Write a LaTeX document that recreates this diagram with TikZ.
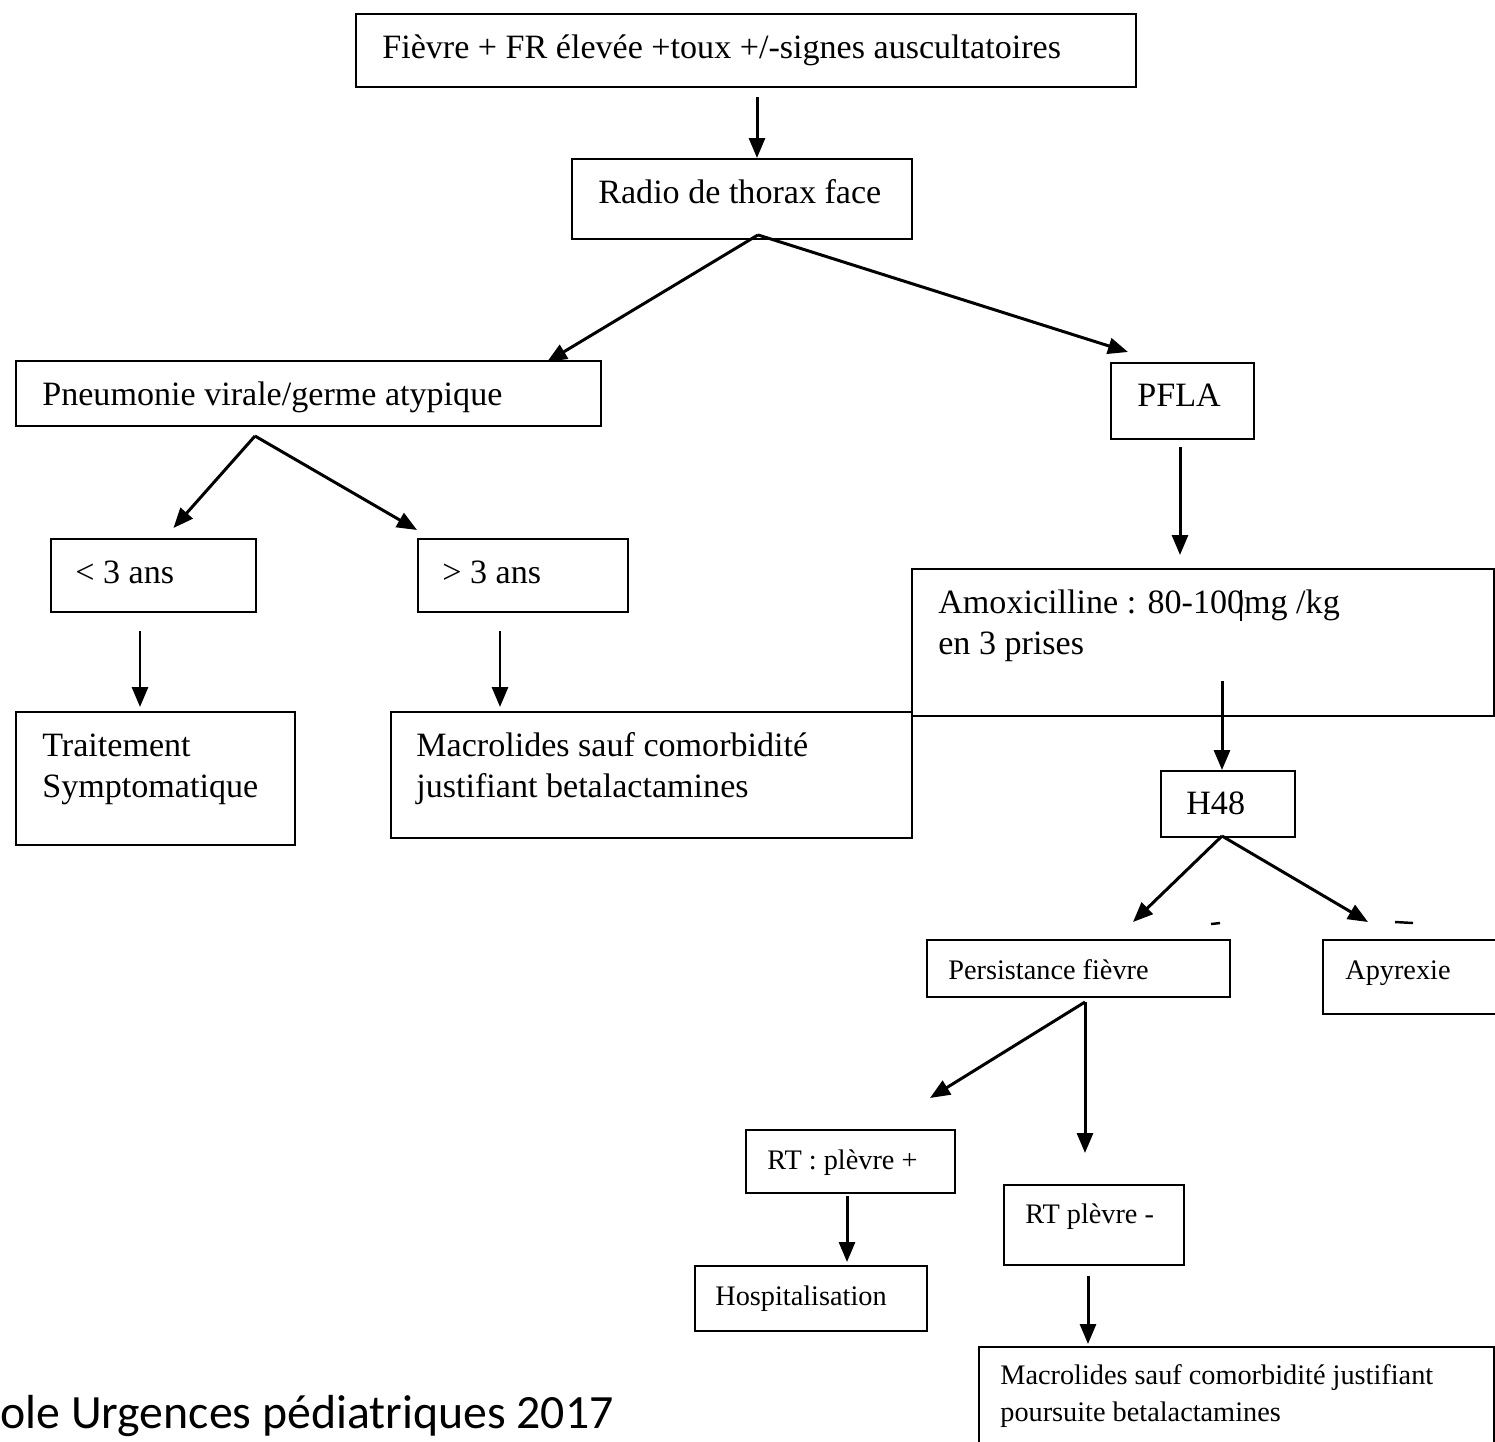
\documentclass[tikz,border=0pt]{standalone}
\usepackage{fontspec}
\setmainfont{Liberation Serif}
\newfontfamily\legende{Carlito}
\usetikzlibrary{calc}
\usetikzlibrary{arrows.meta}
\newcommand{\grand}{\fontsize{19.4}{23}\selectfont}
\newcommand{\petit}{\fontsize{16.1}{21}\selectfont}

\begin{document}
\begin{tikzpicture}[x=0.02cm, y=-0.02cm, >={Triangle[length=0.4cm,width=0.32cm]},
boite/.style 2 args={draw, line width=1.1pt, anchor=north west, inner sep=0pt, minimum width=#1*0.02cm, minimum height=#2*0.02cm},
texte/.style={anchor=base west, inner sep=0pt, align=left, font=\grand},
petittexte/.style={texte, font=\petit},
fleche/.style={->, line width=1.7pt}]
\useasboundingbox (0,0) rectangle (1495,1441);
\clip (0,0) rectangle (1495,1441);

% boites (le texte multi-ligne est place par la ligne du bas)
\node [boite={780}{73}] (fievre) at (355,13) {};
\node [texte] (tfievre) at (382,58) {Fièvre + FR élevée +toux +/-signes auscultatoires};
\node [boite={340}{80}] (radio) at (571,158) {};
\node [texte] (tradio) at (598,203) {Radio de thorax face};

\node [boite={585}{65}] (pneumo) at (15,360) {};
\node [texte] (tpneumo) at (42,405) {Pneumonie virale/germe atypique};
\node [boite={143}{76}] (pfla) at (1110,362) {};
\node [texte] (tpfla) at (1137,406) {PFLA};

\node [boite={205}{73}] (moins) at (50,538) {};
\node [texte] (tmoins) at (75,583) {< 3 ans};
\node [boite={210}{73}] (plus) at (417,538) {};
\node [texte] (tplus) at (442,583) {> 3 ans};
\node [boite={582}{147}] (amox) at (911,568) {};
\node [texte] (tamox) at (938,654) {Amoxicilline : 80-100mg /kg\\en 3 prises};

\node [boite={279}{133}] (trait) at (15,711) {};
\node [texte] (ttrait) at (42,797) {Traitement\\Symptomatique};
\node [boite={521}{126}] (macro) at (390,711) {};
\node [texte] (tmacro) at (416,797) {Macrolides sauf comorbidité\\justifiant betalactamines};

\node [boite={134}{66}] (h48) at (1160,770) {};
\node [texte] (th48) at (1186,814) {H48};

\node [boite={303}{57}] (persist) at (926,939) {};
\node [petittexte] (tpersist) at (948,979) {Persistance fièvre};
\node [boite={200}{74}] (apyr) at (1322,939) {};
\node [petittexte] (tapyr) at (1345,979) {Apyrexie};

\node [boite={209}{63}] (rtplus) at (745,1129) {};
\node [petittexte] (trtplus) at (767,1169) {RT : plèvre +};
\node [boite={180}{80}] (rtmoins) at (1003,1184) {};
\node [petittexte] (trtmoins) at (1025,1223) {RT plèvre -};
\node [boite={232}{65}] (hosp) at (694,1265) {};
\node [petittexte] (thosp) at (715,1305) {Hospitalisation};
\node [boite={515}{120}] (macro2) at (978,1346) {};
\node [petittexte] (tmacro2) at (1000,1421) {Macrolides sauf comorbidité justifiant\\poursuite betalactamines};

\node [anchor=base west, inner sep=0pt, font=\legende\fontsize{27.2}{32}\selectfont] (source) at (0,1428) {ole Urgences pédiatriques 2017};

% fleches
\coordinate (d1) at (757,97);
\draw [fleche] (d1) -- (d1 |- radio.north);
\coordinate (d2) at ($(radio.south)+(16,-5)$);
\draw [fleche] (d2) -- ($(pneumo.north east)+(-55,2)$);
\draw [fleche] (d2) -- ($(pfla.north west)+(18,-10)$);
\coordinate (d3) at (255,436);
\draw [fleche] (d3) -- ($(moins.north)+(20,-10)$);
\draw [fleche] (d3) -- ($(plus.north west)+(0,-8)$);
\coordinate (d4) at (1180,447);
\draw [fleche] (d4) -- ($(d4 |- amox.north)+(0,-13)$);
\coordinate (d5) at (140,631);
\draw [fleche] (d5) -- ($(d5 |- trait.north)+(0,-4)$);
\coordinate (d6) at (500,631);
\draw [fleche] (d6) -- ($(d6 |- macro.north)+(0,-4)$);
\coordinate (d7) at (1222,681);
\draw [fleche] (d7) -- (d7 |- h48.north);
\coordinate (d8) at (1222,836);
\draw [fleche] (d8) -- ($(persist.north west)+(207,-17)$);
\draw [fleche] (d8) -- ($(apyr.north west)+(46,-17)$);
\coordinate (d9) at (1085,1002);
\draw [fleche] (d9) -- ($(rtplus.north west)+(185,-31)$);
\draw [fleche] (d9) -- ($(d9 |- rtmoins.north)+(0,-31)$);
\coordinate (d10) at (847,1196);
\draw [fleche] (d10) -- ($(d10 |- hosp.north)+(0,-3)$);
\coordinate (d11) at (1088,1276);
\draw [fleche] (d11) -- ($(d11 |- macro2.north)+(0,-2)$);

% traits parasites
\draw [line width=1.4pt] (1211,924) -- (1220,923);
\draw [line width=1.4pt] (1395,922) -- (1413,923);
\draw [line width=0.8pt] (1241,590) -- (1241,621);
\end{tikzpicture}
\end{document}
